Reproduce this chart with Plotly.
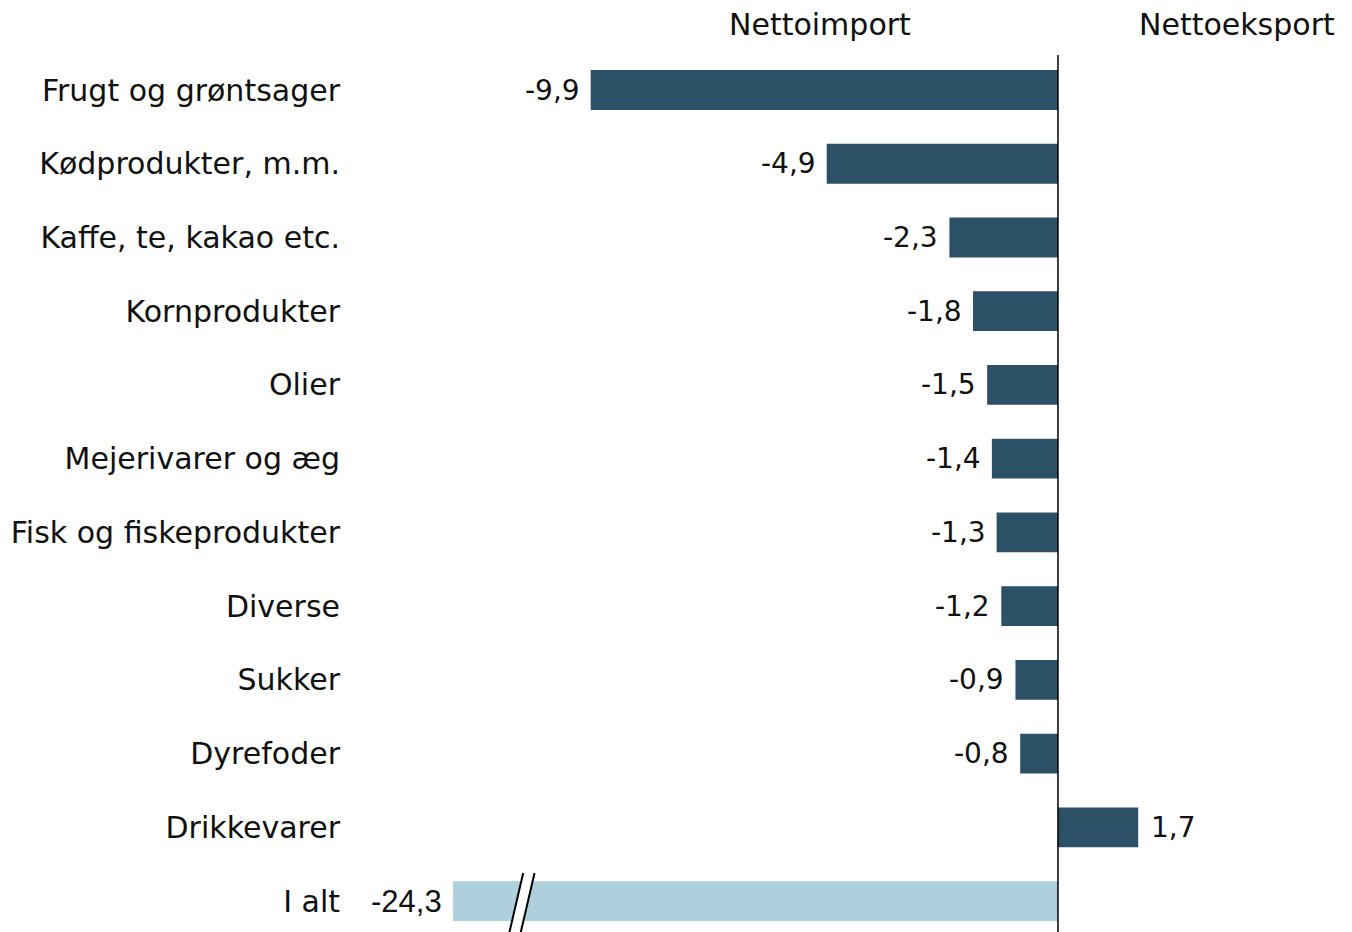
import plotly.graph_objects as go

categories = ["Frugt og grøntsager", "Kødprodukter, m.m.", "Kaffe, te, kakao etc.",
              "Kornprodukter", "Olier", "Mejerivarer og æg", "Fisk og fiskeprodukter",
              "Diverse", "Sukker", "Dyrefoder", "Drikkevarer", "I alt"]
values = [-9.9, -4.9, -2.3, -1.8, -1.5, -1.4, -1.3, -1.2, -0.9, -0.8, 1.7, -24.3]
labels = ["-9,9", "-4,9", "-2,3", "-1,8", "-1,5", "-1,4", "-1,3", "-1,2", "-0,9", "-0,8", "1,7", "-24,3"]
axis_cap = -12.82  # truncated display length for the total bar
break_x = -11.45

dark = "#2C5066"
light = "#AECFDC"
txt = "#111111"
font_main = "Century Gothic, DejaVu Sans, sans-serif"
font_total = "Liberation Sans, Arial, sans-serif"

disp = [max(v, axis_cap) for v in values]
colors = [light if c == "I alt" else dark for c in categories]
ypos = list(range(len(categories)))

fig = go.Figure(go.Bar(
    x=disp, y=ypos, orientation="h", width=0.54,
    marker=dict(color=colors, line=dict(width=0)),
    hoverinfo="skip",
))

# value labels
for c, d, lab, y in zip(categories, disp, labels, ypos):
    neg = d < 0
    fig.add_annotation(x=d, y=y, xref="x", yref="y", text=lab, showarrow=False,
                       xanchor="right" if neg else "left", xshift=-9 if neg else 11,
                       font=dict(family=font_total if c == "I alt" else font_main,
                                 size=31 if c == "I alt" else 28, color=txt))

ti = len(categories) - 1
# axis break marker on total bar
dx = 0.24
fig.add_shape(type="path",
              path=f"M {break_x-0.2},{ti+0.5} L {break_x+0.12},{ti-0.38} L {break_x+0.12+dx},{ti-0.38} L {break_x-0.2+dx},{ti+0.5} Z",
              xref="x", yref="y", fillcolor="white", line=dict(width=0), layer="above")
for off in (0, dx):
    fig.add_shape(type="line", x0=break_x - 0.2 + off, y0=ti + 0.5, x1=break_x + 0.12 + off, y1=ti - 0.38,
                  xref="x", yref="y", line=dict(color="black", width=2), layer="above")

fig.add_shape(type="line", x0=0, x1=0, y0=0, y1=1, xref="x", yref="paper",
              line=dict(color="black", width=1.5), layer="above")

fig.add_annotation(x=-5.04, y=1.0, xref="x", yref="paper", yshift=31, yanchor="middle",
                   text="Nettoimport", showarrow=False, font=dict(family=font_main, size=30, color=txt))
fig.add_annotation(x=3.79, y=1.0, xref="x", yref="paper", yshift=31, yanchor="middle",
                   text="Nettoeksport", showarrow=False, font=dict(family=font_main, size=30, color=txt))

fig.update_layout(
    width=1344, height=924, margin=dict(l=342, r=0, t=47, b=0),
    plot_bgcolor="white", paper_bgcolor="white", showlegend=False,
    xaxis=dict(range=[-15.0, 6.23], showgrid=False, zeroline=False, showticklabels=False,
               ticks="", showline=False, fixedrange=True, automargin=False),
    yaxis=dict(range=[11.42, -0.475], tickmode="array", tickvals=ypos, ticktext=categories,
               showgrid=False, zeroline=False, showline=False, ticks="", automargin=False,
               tickfont=dict(family=font_main, size=30, color=txt), ticklabelstandoff=9),
)

fig.write_html("out.html")
